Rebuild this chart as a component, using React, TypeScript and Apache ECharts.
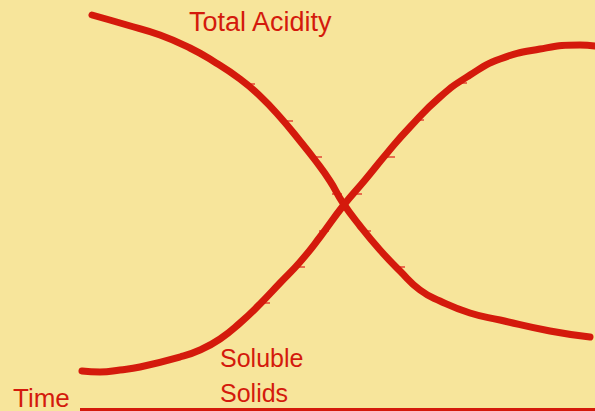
import React, { useEffect, useRef } from "react";
import * as echarts from "echarts";

// Time (horizontal position) and level (height above the bottom)
const acidityTime = [92, 127, 160, 190, 213, 240, 260, 280, 300, 315, 330, 343, 360, 380, 400, 420, 440, 470, 500, 550, 590];
const acidityLevel = [396, 386, 376, 363, 350, 332, 315, 294, 270, 251, 230, 208, 185, 161, 140, 121, 110, 98, 91, 80, 74];

const solidsTime = [82, 100, 120, 140, 180, 200, 220, 240, 260, 280, 300, 320, 343, 365, 388, 410, 440, 470, 500, 540, 580, 595];
const solidsLevel = [40, 39, 41, 44, 54, 61, 72, 88, 107, 128, 149, 174, 205, 231, 259, 284, 314, 336, 352, 362, 366, 365];

// small hand-drawn tick marks along the curves
const tickTime = [250, 288, 317, 337, 357, 366, 324, 300, 400, 265, 390, 419, 462, 448];
const tickLevel = [327, 290, 254, 217, 217, 180, 180, 144, 144, 108, 254, 291, 328, 106];

const RED = "#d41a0c";
const BG = "#f7e59b";

export default function App() {
  const ref = useRef<HTMLDivElement>(null);
  useEffect(() => {
    if (!ref.current) return;
    const chart = echarts.init(ref.current, undefined, { renderer: "svg" });
    const font = "'Liberation Sans', Arial, sans-serif";
    chart.setOption({
      animation: false,
      backgroundColor: BG,
      grid: { left: 0, right: 0, top: 0, bottom: 0 },
      xAxis: { type: "value", min: 0, max: 595, show: false },
      yAxis: { type: "value", min: 0, max: 411, show: false },
      series: [
        {
          name: "Total Acidity",
          type: "line",
          data: acidityTime.map((t, i) => [t, acidityLevel[i]]),
          smooth: 0.5,
          showSymbol: false,
          lineStyle: { color: RED, width: 7, cap: "round", join: "round" },
        },
        {
          name: "Soluble Solids",
          type: "line",
          data: solidsTime.map((t, i) => [t, solidsLevel[i]]),
          smooth: 0.5,
          showSymbol: false,
          lineStyle: { color: RED, width: 7, cap: "round", join: "round" },
        },
        {
          type: "scatter",
          data: tickTime.map((t, i) => [t, tickLevel[i]]),
          symbol: "rect",
          symbolSize: [10, 2],
          itemStyle: { color: "#e4503c" },
          z: 1,
        },
      ],
      graphic: [
        {
          type: "text",
          x: 189,
          y: 21.5,
          style: { text: "Total Acidity", font: `27px ${font}`, fill: RED, verticalAlign: "middle" },
        },
        {
          type: "text",
          x: 220,
          y: 358,
          style: { text: "Soluble", font: `25px ${font}`, fill: RED, verticalAlign: "middle" },
        },
        {
          type: "text",
          x: 220,
          y: 393,
          style: { text: "Solids", font: `25px ${font}`, fill: RED, verticalAlign: "middle" },
        },
        {
          type: "text",
          x: 13,
          y: 398,
          style: { text: "Time", font: `26px ${font}`, fill: RED, verticalAlign: "middle" },
        },
        {
          type: "line",
          shape: { x1: 80, y1: 409.5, x2: 600, y2: 409.5 },
          style: { stroke: RED, lineWidth: 3 },
        },
      ],
    });
    return () => chart.dispose();
  }, []);
  return (
    <div
      ref={ref}
      style={{ position: "fixed", left: 0, top: 0, width: 595, height: 411 }}
    />
  );
}
